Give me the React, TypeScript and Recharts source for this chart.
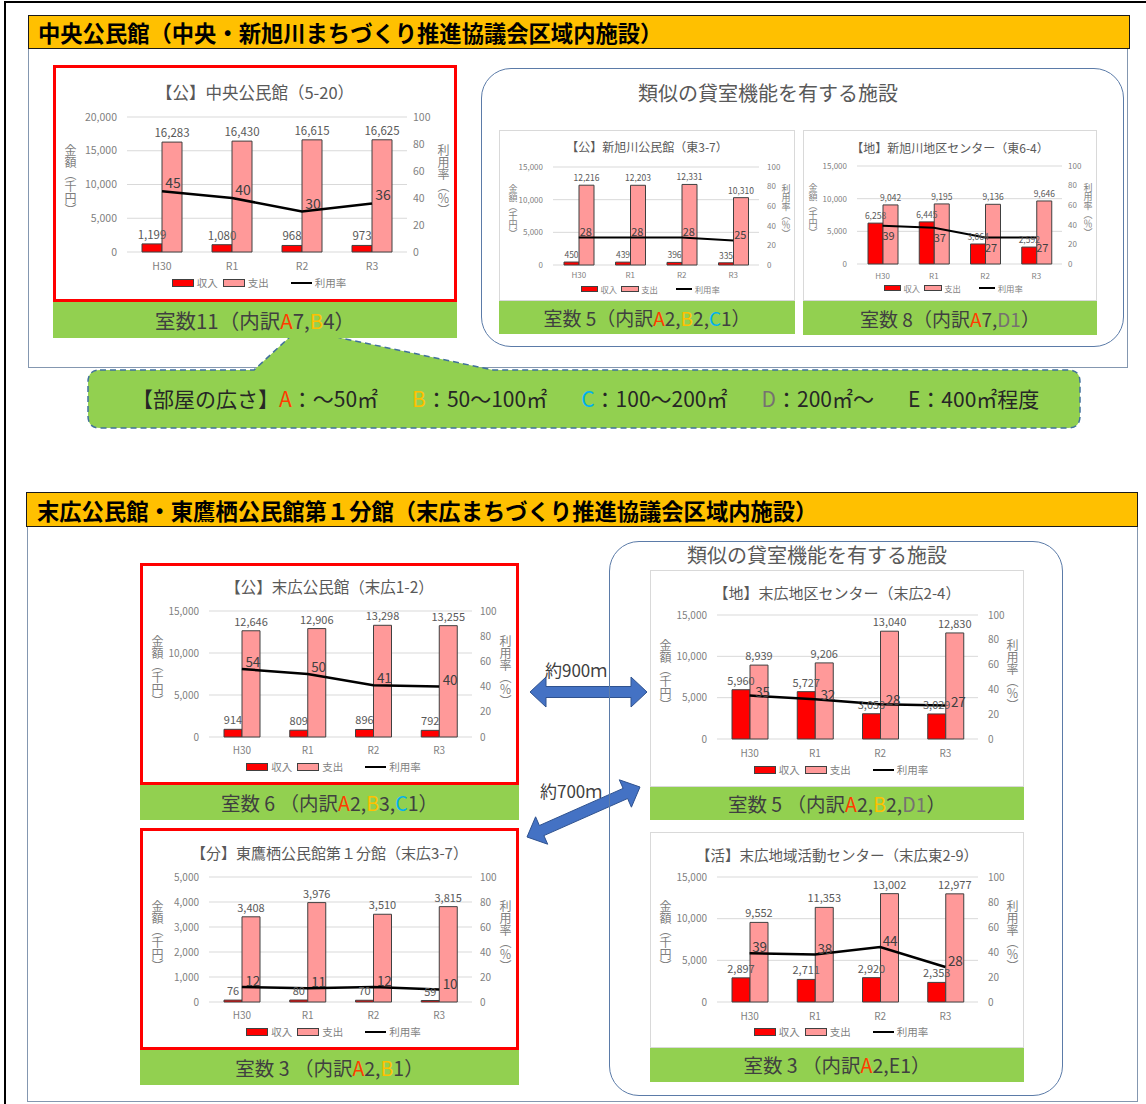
import React from "react";
import { ComposedChart, Bar, Line, XAxis, YAxis, CartesianGrid, LabelList } from "recharts";

const years = ["H30", "R1", "R2", "R3"];

// 中央公民館（5-20）
const chuoIncome = [1199, 1080, 968, 973];
const chuoExpense = [16283, 16430, 16615, 16625];
const chuoRate = [45, 40, 30, 36];
// 新旭川公民館（東3-7）
const shinIncome = [450, 439, 396, 335];
const shinExpense = [12216, 12203, 12331, 10310];
const shinRate = [28, 28, 28, 25];
// 新旭川地区センター（東6-4）
const shinCenterIncome = [6258, 6445, 3064, 2592];
const shinCenterExpense = [9042, 9195, 9136, 9646];
const shinCenterRate = [39, 37, 27, 27];
// 末広公民館（末広1-2）
const suehiroIncome = [914, 809, 896, 792];
const suehiroExpense = [12646, 12906, 13298, 13255];
const suehiroRate = [54, 50, 41, 40];
// 東鷹栖公民館第１分館（末広3-7）
const bunkanIncome = [76, 80, 70, 59];
const bunkanExpense = [3408, 3976, 3510, 3815];
const bunkanRate = [12, 11, 12, 10];
// 末広地区センター（末広2-4）
const suehiroCenterIncome = [5960, 5727, 3053, 3029];
const suehiroCenterExpense = [8939, 9206, 13040, 12830];
const suehiroCenterRate = [35, 32, 28, 27];
// 末広地域活動センター（末広東2-9）
const katsudoIncome = [2897, 2711, 2920, 2353];
const katsudoExpense = [9552, 11353, 13002, 12977];
const katsudoRate = [39, 38, 44, 28];

const ticks20k = [0, 5000, 10000, 15000, 20000];
const ticks15k = [0, 5000, 10000, 15000];
const ticks5k = [0, 1000, 2000, 3000, 4000, 5000];
const rateTicks = [0, 20, 40, 60, 80, 100];

const FONT = '"Noto Sans CJK JP", "Noto Sans", sans-serif';
const A_COL = "#FF3D00";
const B_COL = "#FFC000";
const C_COL = "#00B0F0";
const D_COL = "#767171";
const TXT = "#404040";

const fmt = (v: any) => Number(v).toLocaleString("en-US");

type ChartProps = {
  x: number; y: number; w: number; h: number; red?: boolean;
  title: string; titleY: number; titleSize: number;
  income: number[]; expense: number[]; rate: number[]; yTicks: number[];
  pl: number; pr: number; pt: number; pb: number;
  tick: number; xGap: number; gapL: number; gapR: number;
  barSize: number; barLabel: number; barOff: number;
  lineLabel: number; ldx: number; ldy: number; lineW: number;
  axisLabel: number; axLx: number; axRx: number; axY: number;
  legendY: number; ls: number;
};

function LegendRow({ w, y, s }: { w: number; y: number; s: number }) {
  const sw = { width: 22 * s, height: 8 * s, border: "1px solid #404040", boxSizing: "border-box" as const };
  const txt = { fontSize: 10.5 * s, color: "#7F7F7F", marginLeft: 3 * s, lineHeight: 1 };
  return (
    <div style={{ position: "absolute", left: 4 * s, top: y - 7, width: w, height: 14, display: "flex", alignItems: "center", justifyContent: "center" }}>
      <div style={{ ...sw, background: "#FF0000" }} />
      <span style={txt}>収入</span>
      <div style={{ ...sw, background: "#FF9999", marginLeft: 5 * s }} />
      <span style={txt}>支出</span>
      <div style={{ width: 21 * s, height: 2.5 * s, background: "#000", marginLeft: 22 * s }} />
      <span style={txt}>利用率</span>
    </div>
  );
}

function FacilityChart(p: ChartProps) {
  const data = years.map((yr, i) => ({ year: yr, income: p.income[i], expense: p.expense[i], rate: p.rate[i] }));
  const tickStyle = { fontSize: p.tick, fill: "#7F7F7F" };
  const vlabel = (cx: number, text: string) => (
    <div style={{ position: "absolute", left: cx, top: p.axY, transform: "translate(-50%, -50%)", writingMode: "vertical-rl", fontSize: p.axisLabel, color: "#7F7F7F", lineHeight: 1, whiteSpace: "nowrap" }}>{text}</div>
  );
  return (
    <div style={{ position: "absolute", left: p.x, top: p.y, width: p.w, height: p.h, background: "#fff", boxShadow: p.red ? "inset 0 0 0 3px #FF0000" : "inset 0 0 0 1px #D9D9D9" }}>
      <div style={{ position: "absolute", left: 0, top: p.titleY - p.titleSize / 2, width: p.w, height: p.titleSize, lineHeight: `${p.titleSize}px`, fontSize: p.titleSize, textAlign: "center", color: "#595959", whiteSpace: "nowrap" }}>{p.title}</div>
      <div style={{ position: "absolute", left: 0, top: 0 }}>
        <ComposedChart width={p.w} height={p.h} data={data} margin={{ top: p.pt, right: 0, bottom: 0, left: 0 }} barGap={0} barSize={p.barSize}>
          <CartesianGrid vertical={false} stroke="#D9D9D9" yAxisId="amt" />
          <XAxis dataKey="year" height={p.pb} tickLine={false} axisLine={false} tickSize={0} tickMargin={p.xGap - p.tick * 0.36} tick={tickStyle} interval={0} />
          <YAxis yAxisId="amt" width={p.pl} domain={[0, p.yTicks[p.yTicks.length - 1]]} ticks={p.yTicks} tickFormatter={fmt} tickLine={false} axisLine={false} tickSize={0} tickMargin={p.gapL} tick={tickStyle} interval={0} />
          <YAxis yAxisId="rate" orientation="right" width={p.pr} domain={[0, 100]} ticks={rateTicks} tickLine={false} axisLine={false} tickSize={0} tickMargin={p.gapR} tick={tickStyle} interval={0} />
          <Bar yAxisId="amt" dataKey="income" fill="#FF0000" stroke="#404040" strokeWidth={1} isAnimationActive={false}>
            <LabelList dataKey="income" position="top" offset={p.barOff} formatter={fmt} fontSize={p.barLabel} fill="#595959" />
          </Bar>
          <Bar yAxisId="amt" dataKey="expense" fill="#FF9999" stroke="#404040" strokeWidth={1} isAnimationActive={false}>
            <LabelList dataKey="expense" position="top" offset={p.barOff} formatter={fmt} fontSize={p.barLabel} fill="#595959" />
          </Bar>
          <Line yAxisId="rate" dataKey="rate" stroke="#000" strokeWidth={p.lineW} dot={false} isAnimationActive={false}>
            <LabelList
              dataKey="rate"
              content={(lp: any) => (
                <text x={Number(lp.x) + p.ldx} y={Number(lp.y) + p.ldy} textAnchor="middle" dominantBaseline="central" fontSize={p.lineLabel} fill={TXT}>
                  {lp.value}
                </text>
              )}
            />
          </Line>
        </ComposedChart>
      </div>
      {vlabel(p.axLx, "金額（千円）")}
      {vlabel(p.axRx, "利用率（％）")}
      <LegendRow w={p.w} y={p.legendY} s={p.ls} />
    </div>
  );
}

type Part = { t: string; c?: string };

function GreenLabel({ x, y, w, h, fs, parts }: { x: number; y: number; w: number; h: number; fs: number; parts: Part[] }) {
  return (
    <div style={{ position: "absolute", left: x, top: y, width: w, height: h, background: "#92D050", display: "flex", alignItems: "center", justifyContent: "center", fontSize: fs, color: TXT, whiteSpace: "pre", lineHeight: 1 }}>
      {parts.map((p, i) => (
        <span key={i} style={{ color: p.c ?? TXT }}>{p.t}</span>
      ))}
    </div>
  );
}

function arrowPts(x1: number, y1: number, x2: number, y2: number, sw: number, hw: number, hl: number) {
  const len = Math.hypot(x2 - x1, y2 - y1);
  const ux = (x2 - x1) / len, uy = (y2 - y1) / len;
  const nx = -uy, ny = ux;
  const P = (bx: number, by: number, a: number, b: number) => `${(bx + ux * a + nx * b).toFixed(1)},${(by + uy * a + ny * b).toFixed(1)}`;
  return [
    P(x1, y1, 0, 0), P(x1, y1, hl, hw), P(x1, y1, hl, sw), P(x2, y2, -hl, sw), P(x2, y2, -hl, hw),
    P(x2, y2, 0, 0), P(x2, y2, -hl, -hw), P(x2, y2, -hl, -sw), P(x1, y1, hl, -sw), P(x1, y1, hl, -hw),
  ].join(" ");
}

const big = { tick: 10.5, gapL: 10, barLabel: 11.5, barOff: 5, lineLabel: 14, lineW: 2.5, axisLabel: 12, ls: 1 };
const mid = { tick: 10, gapL: 10, barLabel: 11, barOff: 5, lineLabel: 13.5, lineW: 2.5, axisLabel: 12, ls: 1 };
const small = { tick: 8, gapL: 10, barLabel: 8.5, barOff: 4, lineLabel: 11, lineW: 2, axisLabel: 9, ls: 0.8 };

export default function App() {
  const L = 88, T = 370, R = 1080, B = 428, r = 12;
  const callout = `M ${L + r} ${T} L 254 ${T} L 293 334 L 322 334 L 493 ${T} L ${R - r} ${T} Q ${R} ${T} ${R} ${T + r} L ${R} ${B - r} Q ${R} ${B} ${R - r} ${B} L ${L + r} ${B} Q ${L} ${B} ${L} ${B - r} L ${L} ${T + r} Q ${L} ${T} ${L + r} ${T} Z`;
  const header = { position: "absolute" as const, background: "#FFC000", border: "1.5px solid #1a1a1a", boxSizing: "border-box" as const, fontSize: 22.3, fontWeight: 700, color: "#000", display: "flex", alignItems: "center", whiteSpace: "nowrap" as const };
  const gap = { marginLeft: 34 };
  return (
    <div style={{ position: "absolute", left: 0, top: 0, width: 1146, height: 1104, overflow: "hidden", background: "#fff", fontFamily: FONT }}>
      <div style={{ position: "absolute", left: 4, top: 1, width: 1300, height: 1300, border: "2px solid #000" }} />

      {/* top section */}
      <div style={{ position: "absolute", left: 28, top: 46, width: 1100, height: 322, border: "1.5px solid #8497B0", boxSizing: "border-box" }} />
      <div style={{ ...header, left: 28, top: 15, width: 1102, height: 34, paddingLeft: 9 }}>中央公民館（中央・新旭川まちづくり推進協議会区域内施設）</div>

      <div style={{ position: "absolute", left: 481, top: 68, width: 643, height: 279, borderRadius: 30, border: "1.5px solid #5B7BA8", boxSizing: "border-box" }} />
      <div style={{ position: "absolute", left: 481, top: 82, width: 574, textAlign: "center", fontSize: 20, lineHeight: "22px", color: "#595959" }}>類似の貸室機能を有する施設</div>

      <svg width={1146} height={1104} style={{ position: "absolute", left: 0, top: 0 }}>
        <path d={callout} fill="#92D050" stroke="#41719C" strokeWidth={1.5} strokeDasharray="6 4" />
      </svg>
      <div style={{ position: "absolute", left: 132, top: 386, fontSize: 21, lineHeight: "24px", color: "#262626", whiteSpace: "pre", display: "flex" }}>
        <span>【部屋の広さ】</span>
        <span style={{ color: A_COL }}>A</span><span>：～50㎡</span>
        <span style={{ ...gap, color: B_COL }}>B</span><span>：50～100㎡</span>
        <span style={{ ...gap, color: C_COL }}>C</span><span>：100～200㎡</span>
        <span style={{ ...gap, color: D_COL }}>D</span><span>：200㎡～</span>
        <span style={gap}>E：400㎡程度</span>
      </div>

      <FacilityChart x={53} y={65} w={404} h={237} red title="【公】中央公民館（5-20）" titleY={27} titleSize={16.5}
        income={chuoIncome} expense={chuoExpense} rate={chuoRate} yTicks={ticks20k}
        pl={74} pr={50} pt={52} pb={50} xGap={14} gapR={6} barSize={20} ldx={11} ldy={-9}
        axLx={17} axRx={390} axY={115} legendY={218} {...big} />
      <GreenLabel x={53} y={302} w={404} h={36} fs={20.5} parts={[{ t: "室数11（内訳" }, { t: "A", c: A_COL }, { t: "7," }, { t: "B", c: B_COL }, { t: "4）" }]} />

      <FacilityChart x={499} y={130} w={296} h={171} title="【公】新旭川公民館（東3-7）" titleY={17} titleSize={12}
        income={shinIncome} expense={shinExpense} rate={shinRate} yTicks={ticks15k}
        pl={54} pr={36} pt={37} pb={36} xGap={10} gapR={8} barSize={15} ldx={7} ldy={-7}
        axLx={14} axRx={287} axY={81} legendY={159} {...small} />
      <GreenLabel x={499} y={301} w={296} h={33} fs={19} parts={[{ t: "室数 5（内訳" }, { t: "A", c: A_COL }, { t: "2," }, { t: "B", c: B_COL }, { t: "2," }, { t: "C", c: C_COL }, { t: "1）" }]} />

      <FacilityChart x={803} y={130} w={294} h={171} title="【地】新旭川地区センター（東6-4）" titleY={18} titleSize={12}
        income={shinCenterIncome} expense={shinCenterExpense} rate={shinCenterRate} yTicks={ticks15k}
        pl={54} pr={35} pt={36} pb={37} xGap={12} gapR={6} barSize={15} ldx={6} ldy={9}
        axLx={10} axRx={285} axY={80} legendY={158} {...small} />
      <GreenLabel x={803} y={301} w={294} h={34} fs={19} parts={[{ t: "室数 8（内訳" }, { t: "A", c: A_COL }, { t: "7," }, { t: "D1", c: D_COL }, { t: "）" }]} />

      {/* bottom section */}
      <div style={{ position: "absolute", left: 27, top: 525, width: 1111, height: 577, border: "1.5px solid #8497B0", boxSizing: "border-box" }} />
      <div style={{ ...header, left: 26, top: 492, width: 1112, height: 35, paddingLeft: 10 }}>末広公民館・東鷹栖公民館第１分館（末広まちづくり推進協議会区域内施設）</div>

      <svg width={1146} height={1104} style={{ position: "absolute", left: 0, top: 0 }}>
        <polygon points={arrowPts(530, 692, 647, 692, 5.5, 15, 16)} fill="#4472C4" stroke="#2F528F" strokeWidth={1} />
        <polygon points={arrowPts(527, 837, 640, 787, 5.5, 15, 16)} fill="#4472C4" stroke="#2F528F" strokeWidth={1} />
      </svg>
      <div style={{ position: "absolute", left: 545, top: 659, fontSize: 17, lineHeight: "22px", color: TXT, whiteSpace: "nowrap" }}>約900ｍ</div>
      <div style={{ position: "absolute", left: 540, top: 780, fontSize: 17, lineHeight: "22px", color: TXT, whiteSpace: "nowrap" }}>約700ｍ</div>

      <div style={{ position: "absolute", left: 609, top: 541, width: 454, height: 555, borderRadius: 30, border: "1.5px solid #5B7BA8", boxSizing: "border-box" }} />
      <div style={{ position: "absolute", left: 609, top: 544, width: 416, textAlign: "center", fontSize: 20, lineHeight: "22px", color: "#595959" }}>類似の貸室機能を有する施設</div>

      <FacilityChart x={140} y={563} w={379} h={222} red title="【公】末広公民館（末広1-2）" titleY={24} titleSize={15.5}
        income={suehiroIncome} expense={suehiroExpense} rate={suehiroRate} yTicks={ticks15k}
        pl={69} pr={47} pt={48} pb={48} xGap={13} gapR={8} barSize={18} ldx={11} ldy={-8}
        axLx={17} axRx={365} axY={108} legendY={204} {...mid} />
      <GreenLabel x={140} y={785} w={379} h={35} fs={19.5} parts={[{ t: "室数 6 （内訳" }, { t: "A", c: A_COL }, { t: "2," }, { t: "B", c: B_COL }, { t: "3," }, { t: "C", c: C_COL }, { t: "1）" }]} />

      <FacilityChart x={140} y={828} w={379} h={222} red title="【分】東鷹栖公民館第１分館（末広3-7）" titleY={24} titleSize={15}
        income={bunkanIncome} expense={bunkanExpense} rate={bunkanRate} yTicks={ticks5k}
        pl={69} pr={47} pt={49} pb={48} xGap={13} gapR={8} barSize={18} ldx={11} ldy={-7}
        axLx={17} axRx={365} axY={108} legendY={204} {...mid} />
      <GreenLabel x={140} y={1050} w={379} h={35} fs={19.5} parts={[{ t: "室数 3 （内訳" }, { t: "A", c: A_COL }, { t: "2," }, { t: "B", c: B_COL }, { t: "1）" }]} />

      <FacilityChart x={650} y={570} w={374} h={217} title="【地】末広地区センター（末広2-4）" titleY={22} titleSize={15}
        income={suehiroCenterIncome} expense={suehiroCenterExpense} rate={suehiroCenterRate} yTicks={ticks15k}
        pl={67} pr={46} pt={45} pb={48} xGap={14} gapR={10} barSize={18} ldx={13} ldy={-5}
        axLx={15} axRx={362} axY={105} legendY={200} {...mid} />
      <GreenLabel x={650} y={787} w={374} h={33} fs={19.5} parts={[{ t: "室数 5 （内訳" }, { t: "A", c: A_COL }, { t: "2," }, { t: "B", c: B_COL }, { t: "2," }, { t: "D1", c: D_COL }, { t: "）" }]} />

      <FacilityChart x={650} y={832} w={374} h={216} title="【活】末広地域活動センター（末広東2-9）" titleY={23} titleSize={14.5}
        income={katsudoIncome} expense={katsudoExpense} rate={katsudoRate} yTicks={ticks15k}
        pl={67} pr={46} pt={45} pb={46} xGap={14} gapR={10} barSize={18} ldx={10} ldy={-7}
        axLx={15} axRx={362} axY={104} legendY={200} {...mid} />
      <GreenLabel x={650} y={1048} w={374} h={34} fs={19.5} parts={[{ t: "室数 3 （内訳" }, { t: "A", c: A_COL }, { t: "2,E1）" }]} />
    </div>
  );
}
